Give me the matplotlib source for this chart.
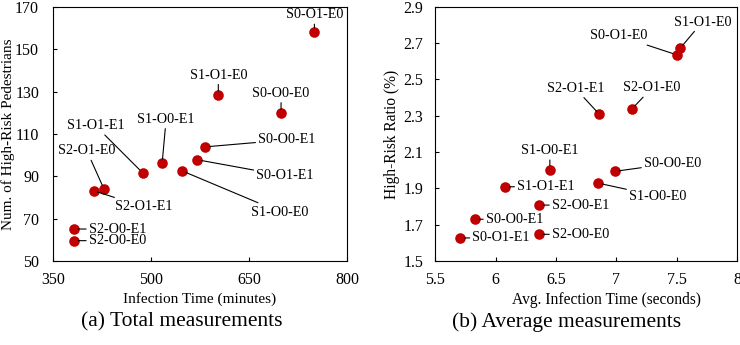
import matplotlib.pyplot as plt

plt.rcParams['font.family'] = ['Liberation Serif', 'DejaVu Serif']

# (a) total measurements
labels_a = ['S0-O1-E0', 'S1-O1-E0', 'S0-O0-E0', 'S0-O0-E1', 'S0-O1-E1', 'S1-O0-E1',
            'S1-O0-E0', 'S1-O1-E1', 'S2-O1-E0', 'S2-O1-E1', 'S2-O0-E1', 'S2-O0-E0']
time_a = [750, 603, 699, 583, 571, 517, 548, 487, 428, 412, 382, 382]
count_a = [158.2, 128.3, 119.7, 103.9, 97.8, 96.1, 92.5, 91.7, 84.0, 83.2, 65.1, 59.6]

# (b) average measurements
labels_b = ['S1-O1-E0', 'S0-O1-E0', 'S2-O1-E0', 'S2-O1-E1', 'S1-O0-E1', 'S0-O0-E0',
            'S1-O0-E0', 'S1-O1-E1', 'S2-O0-E1', 'S0-O0-E1', 'S2-O0-E0', 'S0-O1-E1']
time_b = [7.53, 7.50, 7.13, 6.86, 6.45, 6.99, 6.85, 6.08, 6.36, 5.83, 6.36, 5.71]
ratio_b = [2.673, 2.636, 2.338, 2.308, 2.003, 1.994, 1.929, 1.909, 1.808, 1.730, 1.647, 1.627]

# label offsets in pixels (dx, dy, ha)
offs_a = [(0, 17, 'center'), (0, 20, 'center'), (0, 20, 'center'), (53, 7, 'left'),
          (59, -16, 'left'), (4, 44, 'center'), (69, -41, 'left'), (-47, 47, 'center'),
          (-17, 38, 'center'), (21, -16, 'left'), (15, 0, 'left'), (15, 0, 'left')]
offs_b = [(22, 26, 'center'), (-29, 19, 'right'), (20, 21, 'center'), (-24, 26, 'center'),
          (0, 19, 'center'), (29, 8, 'left'), (31, -13, 'left'), (12, 0, 'left'),
          (13, 0, 'left'), (11, 0, 'left'), (13, 0, 'left'), (12, 0, 'left')]

red = '#C00000'

fig = plt.figure(figsize=(7.4, 3.45), dpi=100)
ax1 = fig.add_axes([0.0716, 0.2435, 0.3974, 0.7365])
ax2 = fig.add_axes([0.588, 0.2435, 0.408, 0.7365])


def draw(ax, xs, ys, labels, offs, ypad):
    ax.scatter(xs, ys, s=58, color=red, zorder=3, linewidths=0)
    for x, y, lab, (dx, dy, ha) in zip(xs, ys, labels, offs):
        ax.annotate(lab, (x, y), xytext=(dx * 0.72, dy * 0.72), textcoords='offset points',
                    ha=ha, va='center', fontsize=10.2,
                    arrowprops=dict(arrowstyle='-', color='black', lw=0.8,
                                    shrinkA=0, shrinkB=3))
    ax.tick_params(direction='in', labelsize=11.5, length=3)
    ax.tick_params(axis='x', pad=8)
    ax.tick_params(axis='y', pad=ypad)
    for sp in ax.spines.values():
        sp.set_linewidth(0.8)


draw(ax1, time_a, count_a, labels_a, offs_a, 10)
ax1.set_xlim(350, 800)
ax1.set_ylim(50, 170)
ax1.set_xticks([350, 500, 650, 800])
ax1.set_yticks(range(50, 171, 20))
ax1.set_xlabel('Infection Time (minutes)', fontsize=11)
ax1.xaxis.set_label_coords(0.5, -0.122)
ax1.set_ylabel('Num. of High-Risk Pedestrians', fontsize=11)
ax1.yaxis.set_label_coords(-0.129, 0.5)

draw(ax2, time_b, ratio_b, labels_b, offs_b, 8.6)
ax2.set_xlim(5.5, 8)
ax2.set_ylim(1.5, 2.9)
ax2.set_xticks([5.5, 6, 6.5, 7, 7.5, 8])
ax2.set_xticklabels(['5.5', '6', '6.5', '7', '7.5', '8'])
ax2.set_yticks([1.5, 1.7, 1.9, 2.1, 2.3, 2.5, 2.7, 2.9])
ax2.set_xlabel('Avg. Infection Time (seconds)', fontsize=11.2)
ax2.xaxis.set_label_coords(0.566, -0.122)
ax2.set_ylabel('High-Risk Ratio (%)', fontsize=11.2)
ax2.yaxis.set_label_coords(-0.116, 0.5)

fig.text(0.245, 0.067, '(a) Total measurements', ha='center', va='center', fontsize=15.5)
fig.text(0.765, 0.067, '(b) Average measurements', ha='center', va='center', fontsize=15.5)

fig.savefig('out.png', dpi=100)
